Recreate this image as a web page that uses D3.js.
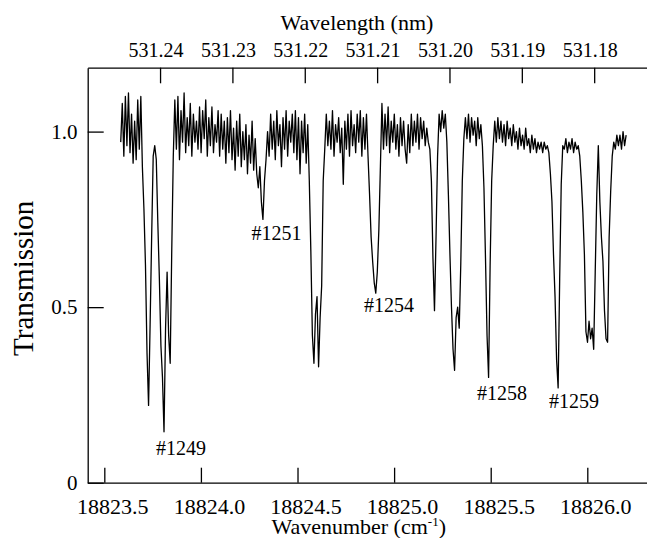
<!DOCTYPE html>
<html>
<head>
<meta charset="utf-8">
<script src="https://cdn.jsdelivr.net/npm/d3@7"></script>
<style>
    body { margin: 0; background: #fff; font-family: "Liberation Serif", "Times New Roman", serif; }
    text { font-family: "Liberation Serif", "Times New Roman", serif !important; }
</style>
</head>
<body>
<div id="chart"></div>
<script>
// Scan grid (wavenumber, cm-1)
const scanStart = 18823.585;
const scanStep = 0.008;

// Measured transmission, one value per scan step
const transmission = [
    0.97, 1.08, 0.93, 1.10, 0.96, 1.11, 0.94, 1.05, 0.91, 1.03, 0.92, 1.09, 0.95, 1.10, 0.90,
    // #1249
    0.78, 0.62, 0.37, 0.22, 0.45, 0.70, 0.93, 0.96, 0.92, 0.74, 0.58, 0.39, 0.30, 0.145, 0.44,
    0.60, 0.42, 0.34, 0.66, 0.93, 1.09,
    0.95, 1.10, 0.92, 1.06, 0.97, 1.11, 0.94, 1.04, 0.96, 1.08, 0.93, 1.05, 0.97, 1.03, 0.95,
    1.07, 0.94, 1.06, 0.98, 1.09, 0.93, 1.04, 0.96, 1.07, 0.94, 1.02, 0.97, 1.06, 0.93, 1.05,
    0.95, 1.03, 0.91, 1.04, 0.94, 1.06, 0.92, 1.01, 0.89, 1.03, 0.93, 1.05, 0.90, 1.00, 0.92,
    1.02, 0.88, 0.99, 0.91, 1.03, 0.89, 0.98,
    // #1251
    0.88, 0.84, 0.90, 0.80, 0.75, 0.86, 0.92, 1.00,
    0.93, 1.05, 0.95, 1.03, 0.92, 1.06, 0.96, 1.02, 0.90, 1.04, 0.95, 1.06, 0.93, 1.03, 0.97,
    1.05, 0.94, 1.06, 0.92, 1.04, 0.88, 1.03, 0.94, 1.05, 0.91,
    1.02, 0.86, 0.66, 0.42, 0.34, 0.48, 0.53, 0.33, 0.47, 0.56, 0.86, 0.95, 1.05,
    0.96, 1.03, 0.95, 1.06, 0.93, 1.02, 0.97, 1.04, 0.94, 1.01, 0.85, 1.03, 0.95, 1.05, 0.93,
    1.06, 0.96, 1.02, 0.94, 1.05, 0.97, 1.06, 0.93, 1.04, 0.95, 1.05,
    // #1254
    0.93, 0.82, 0.70, 0.63, 0.57, 0.54, 0.60, 0.72, 0.90, 1.08,
    0.95, 1.05, 0.96, 1.07, 0.94, 1.03, 0.97, 1.05, 0.95, 1.02, 0.93, 1.04, 0.96, 1.03, 0.95,
    0.91, 1.02, 0.94, 1.05, 0.96, 1.03, 0.97, 1.05, 0.95, 1.04, 0.98, 1.03, 0.96, 1.01,
    0.97, 0.95, 0.86, 0.64, 0.49, 0.70, 0.93, 1.05,
    1.00, 1.06, 1.01, 1.05, 0.97,
    0.82, 0.65, 0.50, 0.38, 0.32, 0.47, 0.50, 0.44, 0.62, 0.86, 0.98, 1.04,
    0.98, 1.05, 0.97, 1.04, 0.99, 1.03, 0.96, 1.04, 0.98, 1.02,
    // #1258
    0.96, 0.84, 0.64, 0.42, 0.30, 0.62, 0.86, 0.96, 1.03,
    0.97, 1.04, 0.98, 1.03, 0.97, 1.02, 0.96, 1.03, 0.98, 1.01, 0.96, 1.02, 0.97, 1.00, 0.95,
    1.01, 0.96, 0.99, 0.95, 1.01, 0.96, 0.98, 0.94, 0.99, 0.95, 0.98, 0.94, 0.97, 0.95, 0.97,
    0.94, 0.97, 0.95, 0.96, 0.94,
    // #1259
    0.88, 0.80, 0.65, 0.53, 0.35, 0.27, 0.58, 0.85, 0.96,
    0.95, 0.98, 0.94, 0.97, 0.95, 0.98, 0.94, 0.97, 0.95, 0.96, 0.93,
    0.86, 0.77, 0.65, 0.43, 0.40, 0.46, 0.41, 0.44, 0.38, 0.60, 0.82, 0.96, 0.80, 0.70, 0.63,
    0.49, 0.41, 0.40, 0.70, 0.83, 0.93, 0.97,
    0.95, 0.99, 0.96, 0.99, 0.95, 1.00, 0.96, 0.99
];

// Axes
const wavenumberDomain = [18823.414, 18826.309];
const wavelengthDomain = [531.2500, 531.1727];
const transmissionDomain = [0, 1.182];
const wavenumberTicks = [18823.5, 18824.0, 18824.5, 18825.0, 18825.5, 18826.0];
const wavelengthTicks = [531.24, 531.23, 531.22, 531.21, 531.20, 531.19, 531.18];
const transmissionTicks = [0, 0.5, 1.0];

// Line labels (anchor in data units)
const lineNames = ["#1249", "#1251", "#1254", "#1258", "#1259"];
const lineLabelWavenumber = [18823.897, 18824.391, 18824.974, 18825.558, 18825.931];
const lineLabelTransmission = [0.079, 0.691, 0.487, 0.236, 0.213];

const serif = "Liberation Serif";
const margin = { top: 67.7, right: 0, bottom: 55.3, left: 87.7 },
    width = 647 - margin.left - margin.right,
    height = 538 - margin.top - margin.bottom;

const root = d3.select("#chart")
    .append("svg")
    .attr("width", width + margin.left + margin.right)
    .attr("height", height + margin.top + margin.bottom)
    .style("font-family", serif);

const svg = root.append("g")
    .attr("transform", "translate(" + margin.left + "," + margin.top + ")");

const x = d3.scaleLinear().domain(wavenumberDomain).range([0, width]);
const xTop = d3.scaleLinear().domain(wavelengthDomain).range([0, width]);
const y = d3.scaleLinear().domain(transmissionDomain).range([height, 0]);

const spectrum = transmission.map((t, i) => ({ nu: scanStart + i * scanStep, t: t }));

function styleAxis(g, size) {
    g.attr("font-family", serif).attr("font-size", size);
    g.selectAll("path, line").attr("stroke", "#000").attr("stroke-width", 1.3);
    g.selectAll("text").attr("fill", "#000").style("font-family", serif).style("font-size", size + "px");
}

// bottom axis
svg.append("g")
    .attr("class", "x axis")
    .attr("transform", "translate(0," + height + ")")
    .call(d3.axisBottom(x).tickValues(wavenumberTicks).tickFormat(d3.format(".1f"))
        .tickSize(-15).tickSizeOuter(0).tickPadding(15.7))
    .call(styleAxis, 22)
    .call(g => g.selectAll("text").attr("dx", 8));

// top axis
svg.append("g")
    .attr("class", "x2 axis")
    .call(d3.axisTop(xTop).tickValues(wavelengthTicks).tickFormat(d3.format(".2f"))
        .tickSize(-15.6).tickSizeOuter(0).tickPadding(10.4))
    .call(styleAxis, 20)
    .call(g => g.selectAll("text").attr("dx", -4.5));

// left axis
svg.append("g")
    .attr("class", "y axis")
    .call(d3.axisLeft(y).tickValues(transmissionTicks)
        .tickFormat(d => d === 0 ? "0" : d3.format(".1f")(d))
        .tickSize(-16).tickSizeOuter(0).tickPadding(10.2))
    .call(styleAxis, 21);

// spectrum
svg.append("path")
    .datum(spectrum)
    .attr("fill", "none")
    .attr("stroke", "#000")
    .attr("stroke-width", 1.3)
    .attr("stroke-linejoin", "round")
    .attr("d", d3.line().x(d => x(d.nu)).y(d => y(d.t)));

// line labels
svg.selectAll(".line-label")
    .data(lineNames)
    .enter().append("text")
    .attr("class", "line-label")
    .attr("x", (d, i) => x(lineLabelWavenumber[i]))
    .attr("y", (d, i) => y(lineLabelTransmission[i]))
    .attr("text-anchor", "middle")
    .style("font-family", serif)
    .style("font-size", "20px")
    .text(d => d);

// axis titles
root.append("text")
    .attr("x", 357).attr("y", 29.5)
    .attr("text-anchor", "middle")
    .style("font-family", serif)
    .style("font-size", "22px")
    .text("Wavelength (nm)");

const xTitle = root.append("text")
    .attr("x", 358.7).attr("y", 533.5)
    .attr("text-anchor", "middle")
    .style("font-family", serif)
    .style("font-size", "22px");
xTitle.append("tspan").text("Wavenumber (cm");
xTitle.append("tspan").attr("dy", -8).style("font-size", "13px").text("-1");
xTitle.append("tspan").attr("dy", 8).text(")");

root.append("text")
    .attr("transform", "translate(33,278.3) rotate(-90)")
    .attr("text-anchor", "middle")
    .style("font-family", serif)
    .style("font-size", "29px")
    .text("Transmission");
</script>
</body>
</html>
